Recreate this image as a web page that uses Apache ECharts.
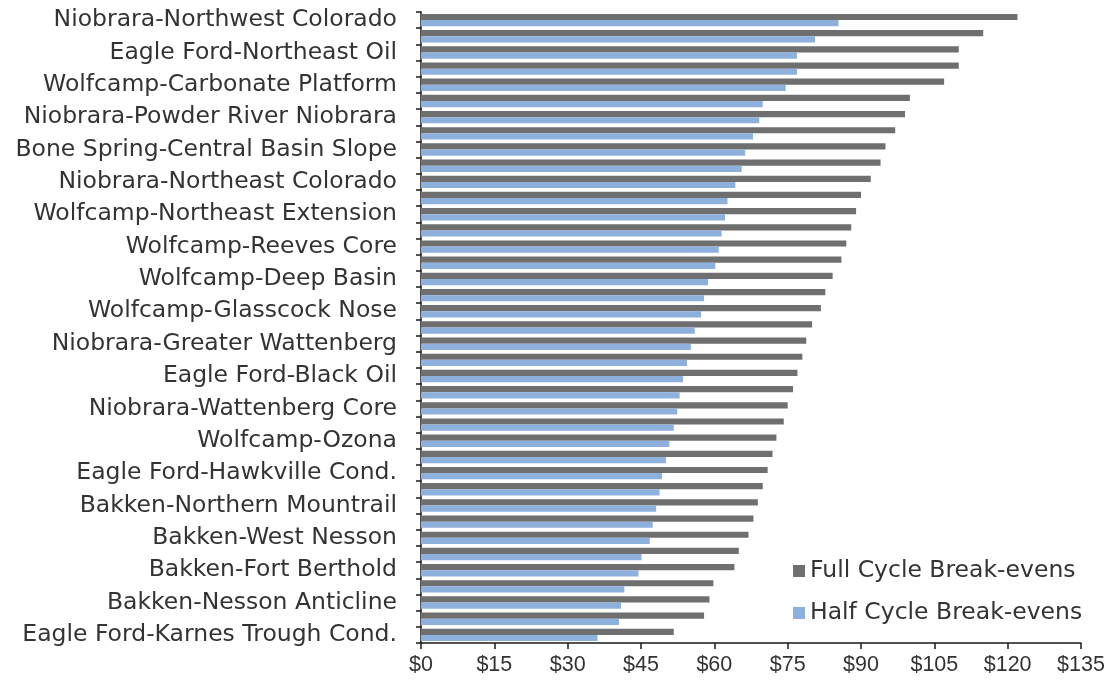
<!DOCTYPE html>
<html>
<head>
<meta charset="utf-8">
<title>Break-evens by play</title>
<script src="https://cdn.jsdelivr.net/npm/echarts@6/dist/echarts.min.js"></script>
<style>
  html, body { margin: 0; padding: 0; background: #fff; }
  #chart { width: 1117px; height: 691px; }
</style>
</head>
<body>
<div id="chart"></div>
<script>
// plays, top to bottom; only every other one is labelled on the axis
const plays = [
  'Niobrara-Northwest Colorado', '',
  'Eagle Ford-Northeast Oil', '',
  'Wolfcamp-Carbonate Platform', '',
  'Niobrara-Powder River Niobrara', '',
  'Bone Spring-Central Basin Slope', '',
  'Niobrara-Northeast Colorado', '',
  'Wolfcamp-Northeast Extension', '',
  'Wolfcamp-Reeves Core', '',
  'Wolfcamp-Deep Basin', '',
  'Wolfcamp-Glasscock Nose', '',
  'Niobrara-Greater Wattenberg', '',
  'Eagle Ford-Black Oil', '',
  'Niobrara-Wattenberg Core', '',
  'Wolfcamp-Ozona', '',
  'Eagle Ford-Hawkville Cond.', '',
  'Bakken-Northern Mountrail', '',
  'Bakken-West Nesson', '',
  'Bakken-Fort Berthold', '',
  'Bakken-Nesson Anticline', '',
  'Eagle Ford-Karnes Trough Cond.'
];

// $/bbl
const fullCycle = [
  122, 115, 110, 110, 107, 100, 99, 97, 95, 94,
  92, 90, 89, 88, 87, 86, 84.2, 82.7, 81.8, 80,
  78.8, 78, 77, 76.1, 75, 74.2, 72.7, 71.9, 70.9, 69.9,
  68.9, 68, 67, 65, 64.1, 59.8, 59, 57.9, 51.7
];
const halfCycle = [
  85.4, 80.6, 76.9, 76.9, 74.6, 69.9, 69.2, 67.9, 66.3, 65.6,
  64.3, 62.7, 62.2, 61.5, 60.9, 60.2, 58.7, 57.9, 57.3, 56,
  55.2, 54.4, 53.6, 52.9, 52.4, 51.7, 50.8, 50.1, 49.3, 48.8,
  48.1, 47.4, 46.8, 45.1, 44.5, 41.6, 40.9, 40.5, 36.1
];

const seriesNames = ['Full Cycle Break-evens', 'Half Cycle Break-evens'];
const xTicks = { min: 0, max: 135, step: 15 };

const chart = echarts.init(document.getElementById('chart'));

chart.setOption({
  animation: false,
  backgroundColor: '#fff',
  grid: {
    left: 421,
    right: 36,
    top: 12,
    bottom: 48
  },
  legend: {
    orient: 'vertical',
    left: 788,
    top: 554,
    icon: 'rect',
    itemWidth: 12,
    itemHeight: 12,
    itemGap: 18,
    textStyle: {
      fontFamily: 'DejaVu Sans',
      fontSize: 23.5,
      color: '#333'
    },
    data: seriesNames
  },
  xAxis: {
    type: 'value',
    min: xTicks.min,
    max: xTicks.max,
    interval: xTicks.step,
    splitLine: { show: false },
    axisLine: { show: true, lineStyle: { color: '#1a1a1a', width: 1.5 } },
    axisTick: { show: true, length: 6, lineStyle: { color: '#1a1a1a', width: 1.5 } },
    axisLabel: {
      margin: 11,
      fontFamily: 'Liberation Sans',
      fontSize: 21.5,
      color: '#333',
      formatter: v => '$' + v
    }
  },
  yAxis: {
    type: 'category',
    inverse: true,
    data: plays,
    axisLine: { show: true, lineStyle: { color: '#1a1a1a', width: 1.5 } },
    axisTick: { show: true, interval: 0, length: 5, lineStyle: { color: '#1a1a1a', width: 1.5 } },
    axisLabel: {
      interval: 1,
      margin: 24,
      fontFamily: 'DejaVu Sans',
      fontSize: 23.5,
      color: '#333'
    }
  },
  series: [
    {
      name: seriesNames[0],
      type: 'bar',
      data: fullCycle,
      barWidth: 6.2,
      barGap: '0%',
      itemStyle: { color: '#6f6f6f' }
    },
    {
      name: seriesNames[1],
      type: 'bar',
      data: halfCycle,
      barWidth: 6.2,
      barGap: '0%',
      itemStyle: { color: '#8eb0dc' }
    }
  ]
});

window.addEventListener('resize', () => chart.resize());
</script>
</body>
</html>
